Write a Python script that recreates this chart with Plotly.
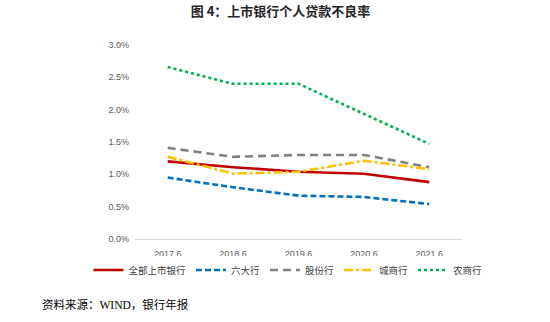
import plotly.graph_objects as go

periods = ["2017.6", "2018.6", "2019.6", "2020.6", "2021.6"]
all_banks = [1.20, 1.11, 1.04, 1.01, 0.88]
big_six = [0.95, 0.80, 0.67, 0.65, 0.54]
joint_stock = [1.41, 1.27, 1.30, 1.30, 1.11]
city_banks = [1.27, 1.01, 1.04, 1.21, 1.08]
rural_banks = [2.66, 2.40, 2.40, 1.94, 1.47]

series = [
    ("全部上市银行", all_banks, "#C00000", "solid"),
    ("六大行", big_six, "#0070C0", "6px,3px"),
    ("股份行", joint_stock, "#808080", "8px,5px"),
    ("城商行", city_banks, "#FFC000", "dashdot"),
    ("农商行", rural_banks, "#00B050", "dot"),
]

cjk = "Noto Sans CJK SC, sans-serif"

fig = go.Figure()
for name, vals, color, dash in series:
    fig.add_trace(go.Scatter(
        x=periods, y=[v / 100 for v in vals], name=name, mode="lines",
        line=dict(color=color, width=2.6, dash=dash),
    ))

# paper area spans x 30..520 px; the plot itself sits at 135..462 px
left, right = 30, 30
paper_w = 550 - left - right
fig.update_layout(
    width=550, height=322,
    margin=dict(l=left, r=right, t=45, b=83),
    paper_bgcolor="white", plot_bgcolor="white",
    title=dict(text="<b>图 4：上市银行个人贷款不良率</b>", x=0.51, xanchor="center",
               y=0.965, yanchor="middle",
               font=dict(family=cjk, size=13, color="#262626")),
    showlegend=True,
    legend=dict(orientation="h", x=(288 - left) / paper_w, xanchor="center",
                y=-0.16, yanchor="middle",
                font=dict(family=cjk, size=9.5, color="#404040"),
                itemwidth=30, tracegroupgap=0, traceorder="normal"),
    xaxis=dict(type="category", range=[-0.5, 4.5],
               domain=[(135 - left) / paper_w, (462 - left) / paper_w],
               showgrid=False, showline=True, linecolor="#D9D9D9",
               linewidth=1, ticks="", ticklabelstandoff=6,
               tickfont=dict(family="Liberation Sans", size=9, color="#595959")),
    yaxis=dict(range=[0, 0.03], dtick=0.005, tickformat=".1%", showgrid=False,
               zeroline=False, showline=False, ticks="", ticklabelstandoff=5,
               tickfont=dict(family="Liberation Sans", size=9, color="#595959")),
    font=dict(family=cjk),
)

fig.add_annotation(
    text="资料来源：WIND，银行年报", xref="paper", yref="paper",
    x=(40 - left) / paper_w, xanchor="left", y=-0.34, yanchor="middle", showarrow=False,
    font=dict(family="Liberation Serif, Noto Sans CJK SC", size=11.5, color="#000000"),
)

fig.write_html("out.html")
